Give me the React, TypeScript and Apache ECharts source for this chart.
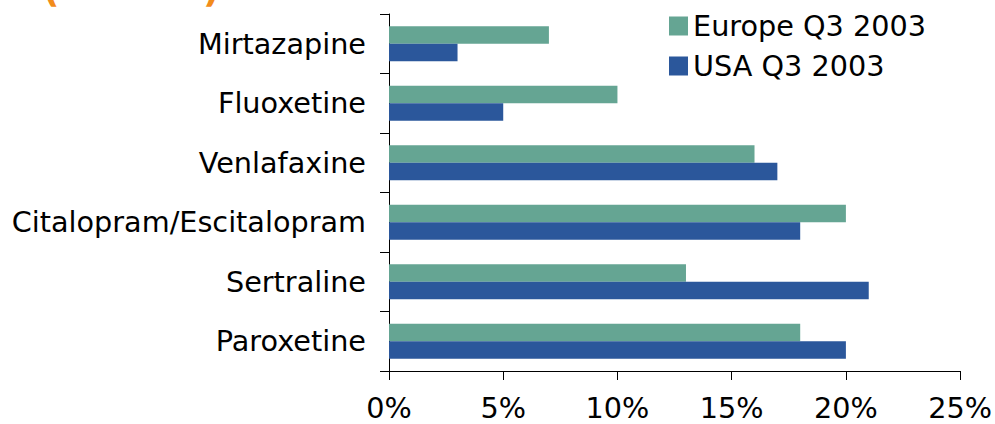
import React, { useEffect, useRef } from "react";
import * as echarts from "echarts";

const categories = ["Paroxetine", "Sertraline", "Citalopram/Escitalopram", "Venlafaxine", "Fluoxetine", "Mirtazapine"];
const europe = [18, 13, 20, 16, 10, 7];
const usa = [20, 21, 18, 17, 5, 3];
const xTicks = { min: 0, max: 25, interval: 5 };

const FONT = "DejaVu Sans";
const FS = 28.7;

export default function App() {
  const ref = useRef<HTMLDivElement>(null);
  useEffect(() => {
    const chart = echarts.init(ref.current!, null, { renderer: "svg" });
    chart.setOption({
      animation: false,
      backgroundColor: "#ffffff",
      textStyle: { fontFamily: FONT },
      grid: { left: 389, right: 32, top: 14, bottom: 53, containLabel: false },
      legend: {
        orient: "vertical",
        left: 664,
        top: 6,
        itemWidth: 19,
        itemHeight: 19,
        itemGap: 10,
        data: ["Europe Q3 2003", "USA Q3 2003"],
        textStyle: { fontFamily: FONT, fontSize: FS, color: "#000", lineHeight: 30 },
        icon: "rect",
      },
      xAxis: {
        type: "value",
        min: xTicks.min,
        max: xTicks.max,
        interval: xTicks.interval,
        axisLine: { show: true, lineStyle: { color: "#000", width: 1 } },
        axisTick: { show: true, length: 9, lineStyle: { color: "#000" } },
        splitLine: { show: false },
        axisLabel: { formatter: "{value}%", fontFamily: FONT, fontSize: FS, color: "#000", margin: 22 },
      },
      yAxis: {
        type: "category",
        data: categories,
        axisLine: { show: true, lineStyle: { color: "#000", width: 1 } },
        axisTick: { show: true, length: 9, alignWithLabel: false, lineStyle: { color: "#000" } },
        axisLabel: { fontFamily: FONT, fontSize: FS, color: "#000", margin: 23 },
      },
      series: [
        {
          name: "Europe Q3 2003",
          type: "bar",
          data: europe,
          itemStyle: { color: "#65A593" },
          barGap: "0%",
          barCategoryGap: "41%",
        },
        {
          name: "USA Q3 2003",
          type: "bar",
          data: usa,
          itemStyle: { color: "#2B579B" },
          barGap: "0%",
          barCategoryGap: "41%",
        },
      ],
      graphic: [
        {
          type: "text",
          left: 43,
          top: -29,
          style: { text: "(", fontFamily: FONT, fontSize: 36, fontWeight: "bold", fill: "#F28C1B" },
        },
        {
          type: "text",
          left: 203,
          top: -29,
          style: { text: ")", fontFamily: FONT, fontSize: 36, fontWeight: "bold", fill: "#F28C1B" },
        },
      ],
    });
    return () => chart.dispose();
  }, []);
  return (
    <div
      ref={ref}
      style={{ position: "fixed", left: 0, top: 0, width: 995, height: 424, background: "#fff" }}
    />
  );
}
